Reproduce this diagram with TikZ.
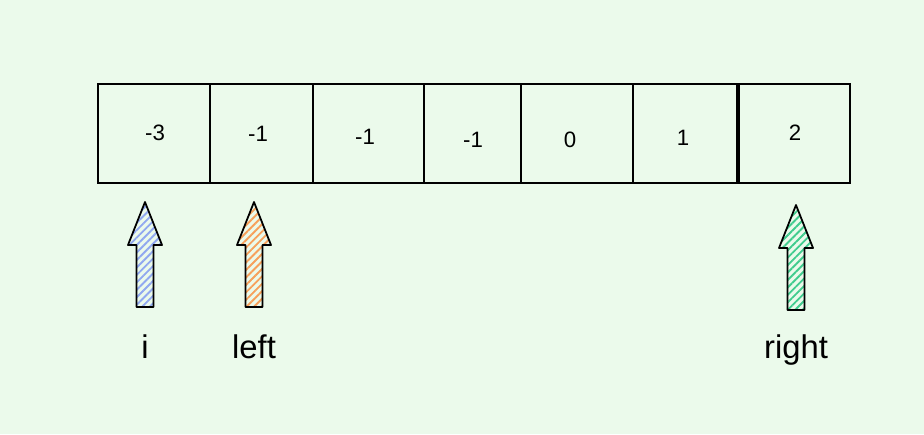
\documentclass[tikz,border=0pt]{standalone}
\usepackage{fontspec}
\setmainfont{Liberation Sans}
\usetikzlibrary{patterns.meta}

\definecolor{bg}{HTML}{EBFAEB}
\definecolor{hatchblue}{HTML}{90A8F0}
\definecolor{hatchorange}{HTML}{F7A05A}
\definecolor{hatchgreen}{HTML}{40CC8E}

\tikzset{
  cell/.style={draw,line width=1.5pt},
  num/.style={font=\fontsize{19}{22}\selectfont},
  lbl/.style={font=\fontsize{28}{32}\selectfont,anchor=base},
  pointer/.style={draw,line width=1.5pt,line join=round,
    pattern={Lines[angle=45,distance=4.5pt,line width=1.6pt]},pattern color=#1}
}

% block arrow: x of tip, y of tip, colour
\newcommand{\uparrowat}[3]{
  \draw[pointer=#3] (#1,#2) -- ++(17,43) -- ++(-8.5,0) -- ++(0,62)
    -- ++(-17,0) -- ++(0,-62) -- ++(-8.5,0) -- cycle;
}

\begin{document}
\begin{tikzpicture}[x=0.03cm,y=-0.03cm]
\fill[bg] (0,0) rectangle (924,434);
\useasboundingbox (0,0) rectangle (924,434);

% the array
\foreach \l/\r/\tx/\ty/\v [count=\i] in {98/210/155/133/-3, 210/313/258/134/-1,
    313/424/365/137/-1, 424/521/473/140/-1, 521/633/570/140/0,
    633/738/683/138/1, 738/850/795/133/2}{
  \draw[cell] (\l,84) rectangle (\r,183);
  \node[num] (n\i) at (\tx,\ty) {\v};
}
\draw[line width=2.6pt] (738,84) -- (738,183);

% pointers
\uparrowat{145}{202}{hatchblue}
\uparrowat{254}{202}{hatchorange}
\uparrowat{796}{205}{hatchgreen}

\node[lbl] (li) at (145,358) {i};
\node[lbl] (lleft) at (254,358) {left};
\node[lbl] (lright) at (796,358) {right};
\end{tikzpicture}
\end{document}
